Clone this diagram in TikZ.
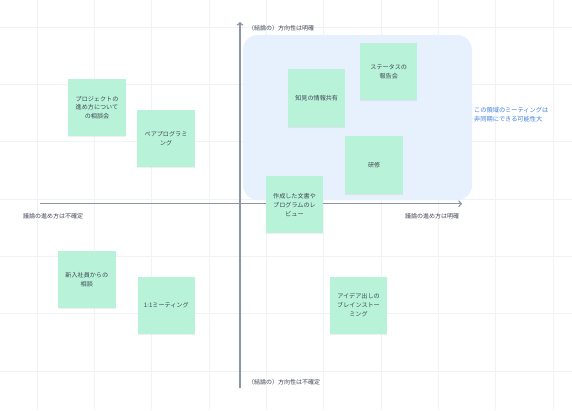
\documentclass[tikz,border=0pt]{standalone}
\usepackage{fontspec}
\setmainfont{Noto Sans CJK JP}
\usepackage{tikz}
\usetikzlibrary{arrows.meta,positioning,calc,shadows}

\definecolor{notegreen}{HTML}{B8F3D9}
\definecolor{zoneblue}{HTML}{E7F0FD}
\definecolor{axisgray}{HTML}{8C95A7}
\definecolor{gridgray}{HTML}{F1F2F4}
\definecolor{inkgray}{HTML}{3F4552}
\definecolor{hintblue}{HTML}{3C7DDE}

\tikzset{
  note/.style={fill=notegreen, minimum width=57.5pt, minimum height=57.5pt,
    align=center, inner sep=2pt, text=inkgray,
    font=\fontsize{6.1}{8.8}\selectfont,
    drop shadow={opacity=.12, shadow xshift=0pt, shadow yshift=-1pt}},
  axis/.style={draw=axisgray, line width=1.1pt, -{Straight Barb[length=2.6pt,width=6pt]}},
  axislabel/.style={text=inkgray, font=\fontsize{6}{8}\selectfont, inner sep=0pt}
}

\begin{document}
\begin{tikzpicture}[x=1pt,y=-1pt]
    \useasboundingbox (0,0) rectangle (572,410);

    % background grid
    \foreach \i in {0,...,9}
      \draw[gridgray, line width=.6pt] ({37+57.33*\i},0) -- ({37+57.33*\i},410);
    \foreach \j in {0,...,6}
      \draw[gridgray, line width=.6pt] (0,{27+57.33*\j}) -- (572,{27+57.33*\j});

    % zone
    \fill[zoneblue, rounded corners=15pt] (243,35) rectangle (472,200);

    % axes
    \coordinate (ybot) at (240,388);
    \coordinate (ytop) at (240,22);
    \coordinate (xleft) at (40,203.7);
    \coordinate (xright) at (462,203.7);
    \draw[axis] (ybot) -- (ytop);
    \draw[axis] (xleft) -- (xright);

    % notes
    \node[note] (consult) at (97,107.7) {プロジェクトの\\進め方について\\の相談会};
    \node[note] (pair) at (166,138.3) {ペアプログラミ\\ング};
    \node[note] (share) at (316.7,98.2) {知見の情報共有};
    \node[note] (status) at (388.7,71.5) {ステータスの\\報告会};
    \node[note] (train) at (374.2,165.2) {研修};
    \node[note] (review) at (294.5,204.7) {作成した文書や\\プログラムのレ\\ビュー};
    \node[note] (newbie) at (86.8,279.3) {新入社員からの\\相談};
    \node[note] (oneone) at (166.3,305.3) {1:1ミーティング};
    \node[note] (brain) at (358.5,305.3) {アイデア出しの\\ブレインストー\\ミング};

    % axis labels
    \node[axislabel, anchor=west] (toplbl) at (248,28) {（結論の）方向性は明確};
    \node[axislabel, anchor=west] (botlbl) at (248,382.7) {（結論の）方向性は不確定};
    \node[axislabel, anchor=west] (leftlbl) at (23,216.7) {議論の進め方は不確定};
    \node[axislabel, anchor=west] (rightlbl) at (405,216.7) {議論の進め方は明確};

    \node[axislabel, anchor=west, align=left, text=hintblue,
      font=\fontsize{6.2}{9}\selectfont] (hint) at (474,114.5)
      {この領域のミーティングは\\非同期にできる可能性大};
\end{tikzpicture}
\end{document}
